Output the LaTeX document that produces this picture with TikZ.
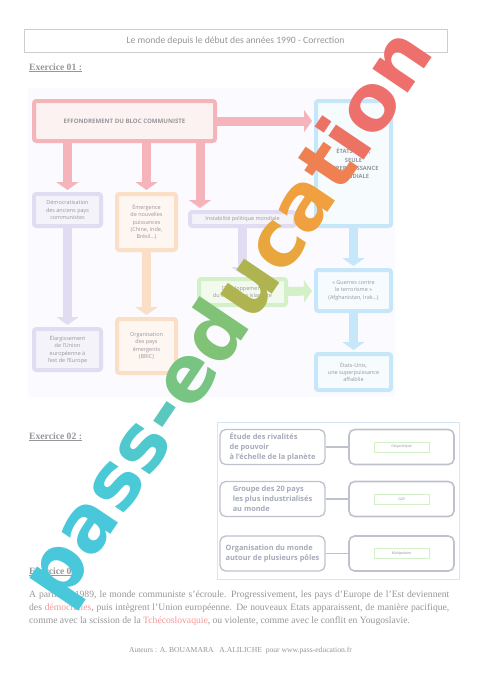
\documentclass[tikz,border=0pt]{standalone}
\usepackage{fontspec}
\setmainfont{Liberation Serif}
\newfontfamily\carlito{Carlito}
\newfontfamily\opensans{Open Sans}
\newfontfamily\wmfont{DejaVu Sans}
\usetikzlibrary{positioning, arrows.meta}
\definecolor{txtgrey}{RGB}{150,150,155}
\definecolor{linegrey}{RGB}{205,205,208}
\definecolor{red1}{RGB}{244,180,185}
\definecolor{purple1}{RGB}{226,220,242}
\definecolor{orange1}{RGB}{250,222,198}
\definecolor{blue1}{RGB}{198,230,250}
\definecolor{green1}{RGB}{212,240,200}
\definecolor{qgrey}{RGB}{190,194,204}
\definecolor{qtext}{RGB}{165,170,185}
\definecolor{frameblue}{RGB}{215,230,245}
\definecolor{pink1}{RGB}{250,150,150}
\definecolor{wm1}{RGB}{72,200,218}
\definecolor{wm2}{RGB}{74,201,214}
\definecolor{wm3}{RGB}{80,201,206}
\definecolor{wm4}{RGB}{90,200,190}
\definecolor{wm5}{RGB}{105,198,160}
\definecolor{wm6}{RGB}{120,196,130}
\definecolor{wm7}{RGB}{128,195,118}
\definecolor{wm8}{RGB}{175,180,80}
\definecolor{wm9}{RGB}{232,166,60}
\definecolor{wm10}{RGB}{240,160,62}
\definecolor{wm11}{RGB}{238,128,82}
\definecolor{wm12}{RGB}{236,114,100}
\definecolor{wm13}{RGB}{238,112,108}
\def\px{0.04375cm}

\begin{document}
\begin{tikzpicture}[
    x=\px, y=-\px,
    every node/.style={anchor=center},
    box/.style={rounded corners=3pt, line width=4*\px, align=center, text=txtgrey,
        font=\opensans\fontsize{6.8}{9.2}\selectfont, inner sep=1pt},
    redbox/.style={box, draw=red1, fill=red1!18},
    purplebox/.style={box, draw=purple1, fill=purple1!35},
    orangebox/.style={box, draw=orange1, fill=orange1!25},
    bluebox/.style={box, draw=blue1, fill=blue1!15},
    greenbox/.style={box, draw=green1, fill=green1!30},
    bigarrow/.style={line width=9*\px, -{Triangle[width=0.96cm, length=0.35cm]}, shorten >=2*\px},
    qbox/.style={draw=qgrey, line width=1.3*\px, rounded corners=7pt, minimum width=105*\px,
        minimum height=35*\px, text=qtext, align=left,
        font=\opensans\bfseries\fontsize{9.2}{12.4}\selectfont},
    tag/.style={draw=green1, line width=1*\px, minimum width=55*\px, minimum height=10*\px,
        inner sep=0pt, text=txtgrey, font=\opensans\itshape\fontsize{4.5}{5}\selectfont},
    heading/.style={anchor=base west, inner sep=0pt, text=txtgrey,
        font=\bfseries\fontsize{12}{14}\selectfont}
]
\useasboundingbox (0,0) rectangle (480,680);
\fill[white] (0,0) rectangle (480,680);

% title
\node[draw=linegrey, line width=1*\px, minimum width=423*\px, minimum height=23*\px,
    text=txtgrey, font=\carlito\fontsize{12}{14}\selectfont] (title) at (235.5,40.5)
    {Le monde depuis le début des années 1990 - Correction};

% Exercice 01
\node[heading] (ex1) at (29,70) {\underline{Exercice 01 :}};
\fill[blue!2] (28,88) rectangle (395,397);

\node[redbox, minimum width=181*\px, minimum height=40*\px, font=\opensans\bfseries\fontsize{7.6}{9}\selectfont]
    (effon) at (124.5,121) {EFFONDREMENT DU BLOC COMMUNISTE};
\node[bluebox, minimum width=75*\px, minimum height=125*\px, font=\opensans\bfseries\fontsize{7.2}{10.3}\selectfont]
    (eu) at (353.5,163.5) {ÉTATS-UNIS,\\SEULE\\SUPERPUISSANCE\\MONDIALE};
\node[purplebox, minimum width=67*\px, minimum height=32*\px] (demo) at (67.5,210)
    {Démocratisation\\des anciens pays\\communistes};
\node[orangebox, minimum width=59*\px, minimum height=56*\px] (emerg) at (146.5,222)
    {Émergence\\de nouvelles\\puissances\\(Chine, Inde,\\Brésil…)};
\node[purplebox, minimum width=105*\px, minimum height=14*\px] (instab) at (242.5,219)
    {Instabilité politique mondiale};
\node[greenbox, minimum width=87*\px, minimum height=26*\px] (dev) at (242.5,292)
    {Développement\\du terrorisme islamiste};
\node[bluebox, minimum width=75*\px, minimum height=41*\px] (guerres) at (353.5,290.5)
    {« Guerres contre\\le terrorisme »\\(Afghanistan, Irak…)};
\node[purplebox, minimum width=67*\px, minimum height=41*\px] (elarg) at (67.5,349.5)
    {Élargissement\\de l’Union\\européenne à\\l’est de l’Europe};
\node[orangebox, minimum width=59*\px, minimum height=54*\px] (orga) at (146.5,346)
    {Organisation\\des pays\\émergents\\(BRIC)};
\node[bluebox, minimum width=75*\px, minimum height=36*\px] (faible) at (353.5,372)
    {États-Unis,\\une superpuissance\\affaiblie};

\coordinate (instabtop) at ([xshift=12*\px]instab.north west);

\draw[bigarrow, red1] (effon.east) -- (effon.east -| eu.west);
\draw[bigarrow, red1] (effon.south -| demo.north) -- (demo.north);
\draw[bigarrow, red1] (effon.south -| emerg.north) -- (emerg.north);
\draw[bigarrow, red1] (instabtop |- effon.south) -- (instabtop);
\draw[bigarrow, purple1] (demo) -- (elarg);
\draw[bigarrow, orange1] (emerg) -- (orga);
\draw[bigarrow, purple1] (instab) -- (dev);
\draw[bigarrow, green1] (dev) -- (guerres);
\draw[bigarrow, blue1] (eu) -- (guerres);
\draw[bigarrow, blue1] (guerres) -- (faible);

% Exercice 02
\node[heading] (ex2) at (29,439) {\underline{Exercice 02 :}};
\node[draw=frameblue, line width=1*\px, minimum width=242*\px, minimum height=157*\px] (frame) at (338,500.5) {};
\foreach \i/\y/\lefttext/\righttext in {
    1/447/{Étude des rivalités\\de pouvoir\\à l’échelle de la planète}/Géopolitique,
    2/499/{Groupe des 20 pays\\les plus industrialisés\\au monde}/G20,
    3/553.5/{Organisation du monde\\autour de plusieurs pôles}/Multipolaire} {
    \node[qbox] (l\i) at (272.5,\y) {\lefttext};
    \node[qbox, line width=1.6*\px] (r\i) at (401.5,\y) {};
    \node[tag] (t\i) at (r\i) {\righttext};
    \draw[qgrey, line width=1.3*\px] (l\i) -- (r\i);
}

% Exercice 03
\node[heading] (ex3) at (29,574) {\underline{Exercice 03 :}};
\node[anchor=north west, inner sep=0pt, text width=523pt, align=justify, text=txtgrey,
    font=\fontsize{12}{16.4}\selectfont] (para) at (29,590.5)
    {A partir de 1989, le monde communiste s’écroule. Progressivement, les pays d’Europe de l’Est deviennent\linebreak
    des \textcolor{pink1}{démocraties}, puis intègrent l’Union européenne. De nouveaux Etats apparaissent, de manière pacifique,\linebreak
    comme avec la scission de la \textcolor{pink1}{Tchécoslovaquie}, ou violente, comme avec le conflit en Yougoslavie.};

\node[text=txtgrey, font=\fontsize{9.5}{11}\selectfont] (authors) at (240.5,651)
    {Auteurs : A. BOUAMARA \ \ A.ALILICHE \ pour www.pass-education.fr};

% watermark
\node[rotate=56, inner sep=0pt, font=\wmfont\bfseries\fontsize{97}{97}\selectfont] (logo) at (231,318)
    {\textcolor{wm1}{p}\textcolor{wm1}{a}\textcolor{wm2}{s}\textcolor{wm3}{s}\textcolor{wm4}{-}%
     \textcolor{wm6}{e}\textcolor{wm7}{d}\textcolor{wm8}{u}\textcolor{wm9}{c}\textcolor{wm10}{a}%
     \textcolor{wm11}{t}\textcolor{wm12}{i}\textcolor{wm13}{o}\textcolor{wm13}{n}};
\end{tikzpicture}
\end{document}
